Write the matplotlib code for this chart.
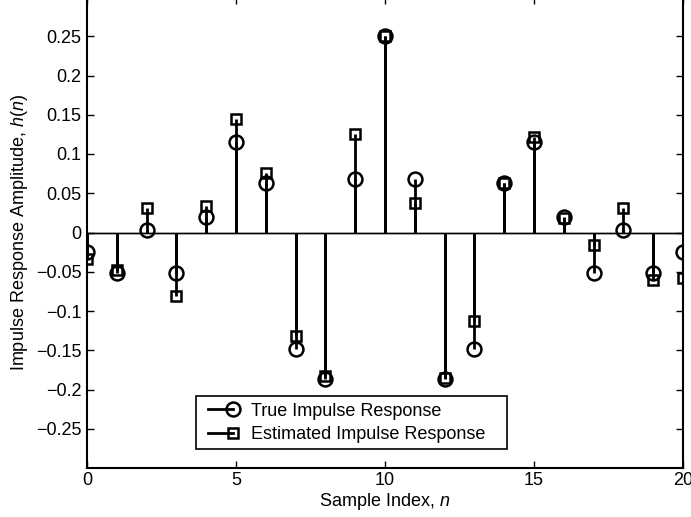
import matplotlib.pyplot as plt
import matplotlib.ticker as mticker
from matplotlib.lines import Line2D
from matplotlib.legend_handler import HandlerLine2D

plt.rcParams['font.family'] = ['Liberation Sans', 'DejaVu Sans']
plt.rcParams['mathtext.fontset'] = 'custom'
plt.rcParams['mathtext.rm'] = 'Liberation Sans'
plt.rcParams['mathtext.it'] = 'Liberation Sans:italic'

# sample index and the two impulse responses
n = list(range(21))
h_true = [-0.025, -0.052, 0.003, -0.051, 0.020, 0.115, 0.063, -0.149, -0.187, 0.068, 0.250,
          0.068, -0.187, -0.149, 0.063, 0.115, 0.020, -0.051, 0.003, -0.052, -0.025]
h_est = [-0.034, -0.048, 0.031, -0.081, 0.034, 0.144, 0.076, -0.132, -0.183, 0.126, 0.250,
         0.037, -0.185, -0.113, 0.063, 0.122, 0.019, -0.016, 0.031, -0.061, -0.058]
y_ticks = [-0.25, -0.2, -0.15, -0.1, -0.05, 0, 0.05, 0.1, 0.15, 0.2, 0.25]


class EndMarker(HandlerLine2D):
    # marker only at the right end of the legend line, matlab style
    def create_artists(self, *args, **kw):
        arts = super().create_artists(*args, **kw)
        for a in arts:
            a.set_markevery([len(a.get_xdata()) - 1])
        return arts


fig = plt.figure(figsize=(6.91, 5.17), dpi=100)
ax = fig.add_axes([87 / 691, 49 / 517, 596 / 691, 471 / 517])

for vals, mk, ms in [(h_true, 'o', 10), (h_est, 's', 7.5)]:
    ml, sl, bl = ax.stem(n, vals, linefmt='k-', markerfmt='k' + mk, basefmt='k-')
    sl.set_linewidth(2)
    ml.set_markerfacecolor('none')
    ml.set_markeredgewidth(1.8)
    ml.set_markersize(ms)
    bl.set_linewidth(1)

ax.set_xlim(0, 20)
ax.set_ylim(-0.3, 0.3)
ax.set_xticks([0, 5, 10, 15, 20])
ax.set_yticks(y_ticks)
ax.yaxis.set_major_formatter(mticker.FuncFormatter(lambda v, p: ('%g' % v).replace('-', '\u2212')))
ax.tick_params(direction='in', top=True, right=True, length=5, width=1, labelsize=13)
ax.tick_params(axis='y', pad=4)
ax.tick_params(axis='x', pad=3)
for s in ax.spines.values():
    s.set_linewidth(1.5)

ax.set_xlabel(r'Sample Index, $\mathit{n}$', fontsize=13, labelpad=1)
ax.set_ylabel(r'Impulse Response Amplitude, $\mathit{h(n)}$', fontsize=13, labelpad=4)

handles = [
    Line2D([0, 1], [0, 0], color='k', lw=2, marker='o', ms=10, mfc='none', mew=1.8),
    Line2D([0, 1], [0, 0], color='k', lw=2, marker='s', ms=7.5, mfc='none', mew=1.8),
]
leg = ax.legend(handles, ['True Impulse Response', 'Estimated Impulse Response   '],
                loc='lower left', bbox_to_anchor=(0.183, 0.04), numpoints=2,
                handler_map={Line2D: EndMarker()},
                fontsize=13, fancybox=False, edgecolor='k', framealpha=1,
                handlelength=2.0, borderpad=0.35, labelspacing=0.35, handletextpad=0.7,
                borderaxespad=0)
leg.get_frame().set_linewidth(1.2)

plt.savefig('out.png', dpi=100)
